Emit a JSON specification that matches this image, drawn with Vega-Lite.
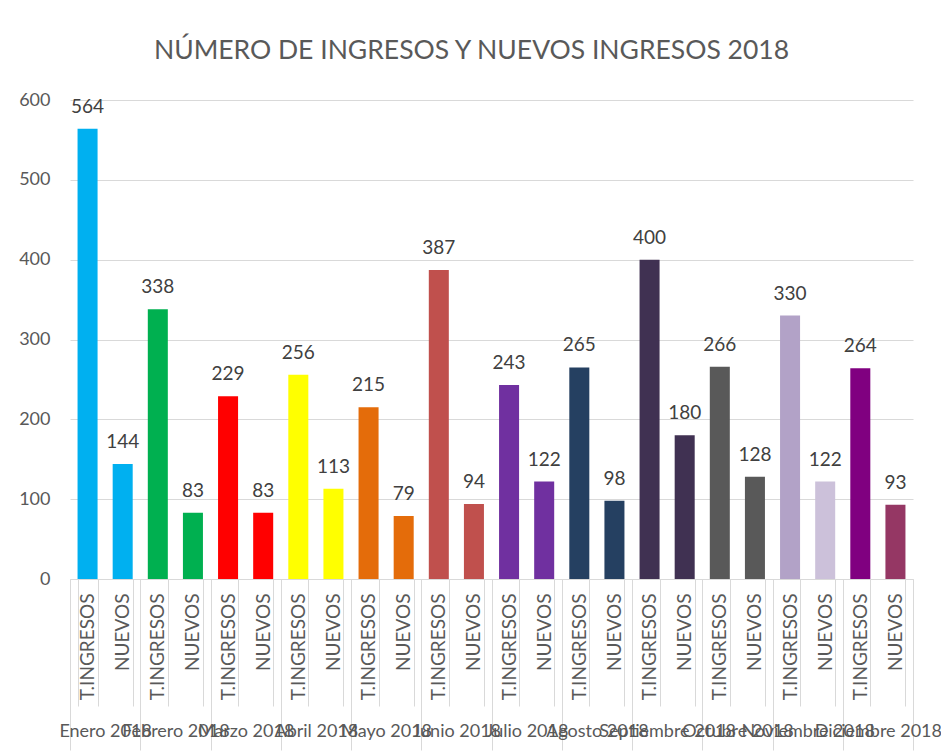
{
  "$schema": "https://vega.github.io/schema/vega-lite/v6.json",
  "width": 843,
  "height": 479,
  "autosize": "none",
  "padding": {"left": 70, "top": 100, "right": 28, "bottom": 177},
  "background": "white",
  "title": {
    "text": "NÚMERO DE INGRESOS Y NUEVOS INGRESOS 2018",
    "font": "Lato",
    "fontSize": 26.5,
    "fontWeight": "normal",
    "color": "#595959",
    "anchor": "middle",
    "dx": -20,
    "offset": -51
  },
  "config": {
    "view": {"stroke": null},
    "font": "Lato"
  },
  "data": {
    "values": [
      {"key": "01a", "month": "Enero 2018", "tipo": "T.INGRESOS", "value": 564},
      {"key": "01b", "month": "Enero 2018", "tipo": "NUEVOS", "value": 144},
      {"key": "02a", "month": "Febrero 2018", "tipo": "T.INGRESOS", "value": 338},
      {"key": "02b", "month": "Febrero 2018", "tipo": "NUEVOS", "value": 83},
      {"key": "03a", "month": "Marzo 2018", "tipo": "T.INGRESOS", "value": 229},
      {"key": "03b", "month": "Marzo 2018", "tipo": "NUEVOS", "value": 83},
      {"key": "04a", "month": "Abril 2018", "tipo": "T.INGRESOS", "value": 256},
      {"key": "04b", "month": "Abril 2018", "tipo": "NUEVOS", "value": 113},
      {"key": "05a", "month": "Mayo 2018", "tipo": "T.INGRESOS", "value": 215},
      {"key": "05b", "month": "Mayo 2018", "tipo": "NUEVOS", "value": 79},
      {"key": "06a", "month": "Junio 2018", "tipo": "T.INGRESOS", "value": 387},
      {"key": "06b", "month": "Junio 2018", "tipo": "NUEVOS", "value": 94},
      {"key": "07a", "month": "Julio 2018", "tipo": "T.INGRESOS", "value": 243},
      {"key": "07b", "month": "Julio 2018", "tipo": "NUEVOS", "value": 122},
      {"key": "08a", "month": "Agosto 2018", "tipo": "T.INGRESOS", "value": 265},
      {"key": "08b", "month": "Agosto 2018", "tipo": "NUEVOS", "value": 98},
      {"key": "09a", "month": "Septiembre 2018", "tipo": "T.INGRESOS", "value": 400},
      {"key": "09b", "month": "Septiembre 2018", "tipo": "NUEVOS", "value": 180},
      {"key": "10a", "month": "Octubre 2018", "tipo": "T.INGRESOS", "value": 266},
      {"key": "10b", "month": "Octubre 2018", "tipo": "NUEVOS", "value": 128},
      {"key": "11a", "month": "Noviembre 2018", "tipo": "T.INGRESOS", "value": 330},
      {"key": "11b", "month": "Noviembre 2018", "tipo": "NUEVOS", "value": 122},
      {"key": "12a", "month": "Diciembre 2018", "tipo": "T.INGRESOS", "value": 264},
      {"key": "12b", "month": "Diciembre 2018", "tipo": "NUEVOS", "value": 93}
    ]
  },
  "encoding": {
    "y": {
      "field": "value",
      "type": "quantitative",
      "scale": {"domain": [0, 600]},
      "axis": {
        "title": null,
        "values": [0, 100, 200, 300, 400, 500, 600],
        "domain": false,
        "ticks": false,
        "labelPadding": 20,
        "labelFontSize": 18,
        "labelColor": "#595959",
        "labelFont": "Lato",
        "gridColor": "#d9d9d9",
        "gridWidth": 1
      }
    }
  },
  "layer": [
    {
      "mark": {"type": "bar"},
      "encoding": {
        "x": {
          "field": "key",
          "type": "nominal",
          "sort": null,
          "scale": {"paddingInner": 0.43, "paddingOuter": 0.215},
          "axis": {
            "title": null,
            "labelExpr": "substring(datum.label, 2, 3) == 'a' ? 'T.INGRESOS' : (substring(datum.label, 2, 3) == 'b' ? 'NUEVOS' : '')",
            "labelAngle": -90,
            "labelFontSize": 19,
            "labelColor": "#595959",
            "labelFont": "Lato",
            "tickBand": "extent",
            "tickSize": 127,
            "tickColor": "#d9d9d9",
            "domainColor": "#d9d9d9",
            "labelPadding": -113,
            "grid": false
          }
        },
        "color": {
          "field": "key",
          "type": "nominal",
          "legend": null,
          "scale": {
            "domain": ["01a","01b","02a","02b","03a","03b","04a","04b","05a","05b","06a","06b","07a","07b","08a","08b","09a","09b","10a","10b","11a","11b","12a","12b"],
            "range": ["#00B0F0","#00B0F0","#00B050","#00B050","#FF0000","#FF0000","#FFFF00","#FFFF00","#E46C0A","#E46C0A","#C0504D","#C0504D","#7030A0","#7030A0","#254061","#254061","#403152","#403152","#595959","#595959","#B2A2C7","#CCC1DA","#800080","#953764"]
          }
        }
      }
    },
    {
      "mark": {"type": "text", "baseline": "bottom", "dy": -12, "fontSize": 19, "color": "#404040", "font": "Lato"},
      "encoding": {
        "x": {
          "field": "key",
          "type": "nominal",
          "sort": null,
          "scale": {"paddingInner": 0.43, "paddingOuter": 0.215},
          "axis": null
        },
        "text": {"field": "value", "type": "quantitative"}
      }
    },
    {
      "mark": {"type": "bar", "opacity": 0},
      "encoding": {
        "x": {
          "field": "month",
          "type": "nominal",
          "sort": null,
          "scale": {"paddingInner": 0, "paddingOuter": 0},
          "axis": {
            "orient": "bottom",
            "title": null,
            "labelAngle": 0,
            "labelFontSize": 18,
            "labelColor": "#595959",
            "labelFont": "Lato",
            "labelLimit": 0,
            "labelOverlap": false,
            "tickBand": "extent",
            "tickSize": 171,
            "tickColor": "#d9d9d9",
            "domain": false,
            "labelPadding": -28,
            "grid": false
          }
        }
      }
    }
  ],
  "resolve": {"scale": {"x": "independent", "color": "independent"}}
}
